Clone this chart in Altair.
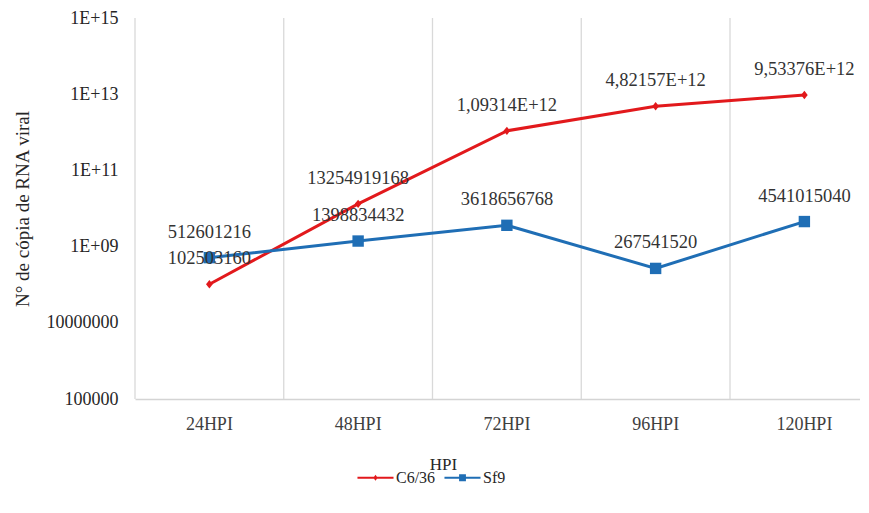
import math
import altair as alt
import pandas as pd

categories = ["24HPI", "48HPI", "72HPI", "96HPI", "120HPI"]
series_names = ["C6/36", "Sf9"]
series_colors = ["#E2191C", "#1F6EB5"]
c636_values = [102503160, 13254919168, 1.09314e12, 4.82157e12, 9.53376e12]
c636_labels = ["102503160", "13254919168", "1,09314E+12", "4,82157E+12", "9,53376E+12"]
sf9_values = [512601216, 1398834432, 3618656768, 267541520, 4541015040]
sf9_labels = ["512601216", "1398834432", "3618656768", "267541520", "4541015040"]
y_tick_values = [1e5, 1e7, 1e9, 1e11, 1e13, 1e15]
y_tick_labels = ["100000", "10000000", "1E+09", "1E+11", "1E+13", "1E+15"]

rows = []
for c, v, l in zip(categories, c636_values, c636_labels):
    rows.append({"cat": c, "series": "C6/36", "value": v, "label": l})
for c, v, l in zip(categories, sf9_values, sf9_labels):
    rows.append({"cat": c, "series": "Sf9", "value": v, "label": l})
df = pd.DataFrame(rows)
cat_df = pd.DataFrame({"cat": categories})

FONT = "'Liberation Serif', 'DejaVu Serif', serif"
W, H = 725, 381
XRANGE = [0, 743.75]

# label expression for y axis built from the lists
expr = "''"
for v, lab in reversed(list(zip(y_tick_values, y_tick_labels))):
    e = int(round(math.log10(v)))
    expr = f"(abs(log(datum.value)/log(10) - {e}) < 0.01) ? '{lab}' : " + expr

xscale = alt.Scale(domain=categories, range=XRANGE, paddingInner=0, paddingOuter=0)
yscale = alt.Scale(type="log", domain=[1e5, 1e15])

x_axis = alt.Axis(title="HPI", labelAngle=0, ticks=False, grid=False,
                  domainColor="#D4D4D4", domainWidth=1.5,
                  labelFont=FONT, labelFontSize=18, labelColor="#404040",
                  labelPadding=16, titleFont=FONT, titleFontSize=17,
                  titleFontWeight="normal", titleColor="#262626",
                  titleX=308, titleY=65, titleBaseline="middle")
y_axis = alt.Axis(title="N° de cópia de RNA viral", values=y_tick_values,
                  labelExpr=expr, grid=False, ticks=False, domain=False,
                  labelFont=FONT, labelFontSize=18, labelColor="#262626",
                  labelPadding=17, titleFont=FONT, titleFontSize=19,
                  titleFontWeight="normal", titleColor="#262626",
                  titlePadding=14)

rules = alt.Chart(cat_df).mark_rule(color="#D9D9D9", strokeWidth=1.3).encode(
    x=alt.X("cat:N", sort=categories, scale=xscale, bandPosition=0, axis=x_axis),
    y=alt.value(0), y2=alt.value(H))

color_nolegend = alt.Color("series:N", scale=alt.Scale(domain=series_names, range=series_colors), legend=None)

lines = alt.Chart(df).mark_line(strokeWidth=3).encode(
    x=alt.X("cat:N", sort=categories, scale=xscale),
    y=alt.Y("value:Q", scale=yscale, axis=y_axis),
    color=color_nolegend, detail="series:N")

points = alt.Chart(df).mark_point(filled=True, opacity=1).encode(
    x=alt.X("cat:N", sort=categories, scale=xscale),
    y=alt.Y("value:Q", scale=yscale),
    color=color_nolegend,
    shape=alt.Shape("series:N", scale=alt.Scale(domain=series_names,
                    range=["M0,-1L0.8,0L0,1L-0.8,0Z", "square"]), legend=None),
    size=alt.Size("series:N", scale=alt.Scale(domain=series_names, range=[70, 130]), legend=None))

texts = alt.Chart(df).mark_text(font=FONT, fontSize=18.5, color="#333333", dy=-26, baseline="middle").encode(
    x=alt.X("cat:N", sort=categories, scale=xscale),
    y=alt.Y("value:Q", scale=yscale),
    text="label:N")

red_path = "M-1,-0.05L1,-0.05L1,0.05L-1,0.05Z M0,-0.16L0.12,0L0,0.16L-0.12,0Z"
blue_path = "M-1,-0.05L1,-0.05L1,0.05L-1,0.05Z M-0.19,-0.19L0.19,-0.19L0.19,0.19L-0.19,0.19Z"

legend_layer = alt.Chart(df).mark_point(filled=True, opacity=1).encode(
    x=alt.X("cat:N", sort=categories, scale=xscale),
    y=alt.Y("value:Q", scale=yscale),
    color=alt.Color("series:N", scale=alt.Scale(domain=series_names, range=series_colors),
                    legend=alt.Legend(title=None, orient="none", legendX=222, legendY=441,
                                      direction="horizontal", labelFont=FONT, labelFontSize=16,
                                      labelColor="#262626", symbolSize=1300, symbolStrokeWidth=0,
                                      symbolOpacity=1, labelOffset=2, columnPadding=8)),
    shape=alt.Shape("series:N", scale=alt.Scale(domain=series_names, range=[red_path, blue_path]),
                    legend=alt.Legend(title=None))).transform_filter("false")

chart = alt.layer(rules, lines, points, texts, legend_layer).resolve_scale(
    color="independent", shape="independent", size="independent"
).properties(
    width=W, height=H,
    autosize=alt.AutoSizeParams(type="none"),
    padding={"left": 127, "top": 10, "right": 0, "bottom": 96},
).configure_view(stroke=None)

chart.save("out.html", embed_options={"renderer": "svg", "actions": False})
